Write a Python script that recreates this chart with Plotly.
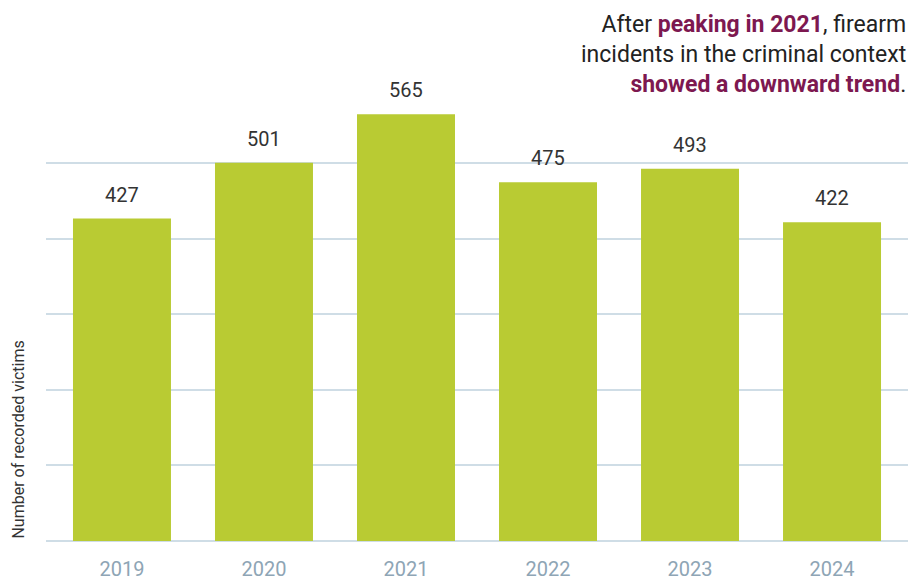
import plotly.graph_objects as go

years = ["2019", "2020", "2021", "2022", "2023", "2024"]
victims = [427, 501, 565, 475, 493, 422]

bar_color = "#b9cb33"
grid_color = "#cfdde6"
tick_color = "#8ea5b5"
accent = "#7d1850"
dark = "#222222"
font_family = "Roboto, sans-serif"

# the page body has an 8px default margin, so the figure is drawn 8px smaller and offset
OFF = 8

fig = go.Figure()
fig.add_trace(go.Bar(x=years, y=victims, marker_color=bar_color, marker_line_width=0,
                     hoverinfo="skip"))

for i, v in enumerate(victims):
    fig.add_annotation(x=i, y=v, text=str(v), showarrow=False, yanchor="bottom",
                       yshift=10, font=dict(family=font_family, size=20, color="#333333"))

fig.add_annotation(xref="paper", yref="paper", x=-0.033, y=0, xanchor="center", yanchor="bottom",
                   text="Number of recorded victims", textangle=-90, showarrow=False,
                   font=dict(family=font_family, size=16, color="#333333"))

title = (f"After <b><span style='color:{accent}'>peaking in 2021</span></b>, firearm<br>"
         "incidents in the criminal context<br>"
         f"<b><span style='color:{accent}'>showed a downward trend</span></b>.")
fig.add_annotation(xref="paper", yref="paper", x=1.0, y=1.215, xanchor="right", yanchor="top",
                   align="right", text=title, showarrow=False,
                   font=dict(family=font_family, size=23, color=dark))

fig.update_layout(
    width=917 - OFF, height=585 - OFF,
    margin=dict(l=46 - OFF, r=9, t=103 - OFF, b=44),
    paper_bgcolor="white", plot_bgcolor="white",
    bargap=0.31, showlegend=False,
    xaxis=dict(type="category", range=[-0.535, 5.535], showgrid=False, zeroline=False,
               showline=False, tickfont=dict(family=font_family, size=20, color=tick_color),
               ticks="", ticklabelstandoff=14, automargin=False),
    yaxis=dict(range=[0, 580], dtick=100, showticklabels=False, showgrid=True,
               gridcolor=grid_color, gridwidth=1.5, zeroline=True, zerolinecolor=grid_color,
               zerolinewidth=1.5, showline=False, ticks="", automargin=False),
)

fig.write_html("out.html")
